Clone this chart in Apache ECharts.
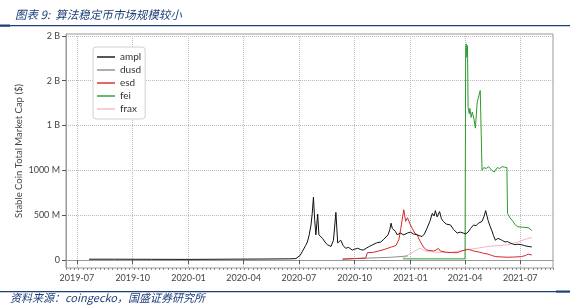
<!DOCTYPE html>
<html><head><meta charset="utf-8">
<script src="https://cdn.jsdelivr.net/npm/echarts@6/dist/echarts.min.js"></script>
<style>html,body{margin:0;padding:0;background:#fff}#c{width:570px;height:308px}</style>
</head><body><div id="c"></div>
<script>
// ---- data (values in millions of USD) ----
const seriesNames = ['ampl', 'dusd', 'esd', 'fei', 'frax'];
const yTickValues = [0, 500, 1000, 1500, 2000, 2500];
const yTickLabels = ['0', '500 M', '1000 M', '1 B', '2 B', '2 B'];
const xTickLabels = ['2019-07', '2019-10', '2020-01', '2020-04', '2020-07', '2020-10', '2021-01', '2021-04', '2021-07'];

const amplDates = ['2019-07-21','2019-09-01','2019-11-01','2020-01-01','2020-03-01','2020-05-01','2020-06-15','2020-06-26','2020-07-03','2020-07-08','2020-07-12','2020-07-15','2020-07-18','2020-07-21','2020-07-23','2020-07-25','2020-07-27','2020-07-29','2020-08-01','2020-08-03','2020-08-06','2020-08-09','2020-08-13','2020-08-17','2020-08-20','2020-08-23','2020-08-27','2020-08-31','2020-09-03','2020-09-08','2020-09-12','2020-09-16','2020-09-21','2020-09-27','2020-10-01','2020-10-06','2020-10-11','2020-10-15','2020-10-20','2020-10-25','2020-10-31','2020-11-06','2020-11-13','2020-11-18','2020-11-25','2020-11-28','2020-11-30','2020-12-02','2020-12-04','2020-12-07','2020-12-10','2020-12-15','2020-12-21','2020-12-27','2021-01-01','2021-01-06','2021-01-12','2021-01-20','2021-01-24','2021-01-28','2021-02-02','2021-02-06','2021-02-09','2021-02-11','2021-02-14','2021-02-18','2021-02-21','2021-02-24','2021-03-01','2021-03-08','2021-03-13','2021-03-19','2021-03-24','2021-03-29','2021-04-02','2021-04-06','2021-04-10','2021-04-15','2021-04-19','2021-04-23','2021-04-29','2021-05-02','2021-05-05','2021-05-09','2021-05-12','2021-05-15','2021-05-18','2021-05-21','2021-05-25','2021-05-29','2021-06-02','2021-06-06','2021-06-10','2021-06-14','2021-06-18','2021-06-22','2021-06-27','2021-07-03','2021-07-08','2021-07-14','2021-07-20'];
const amplValues = [8,8,7,6,8,10,12,15,50,110,160,200,280,390,520,700,450,280,510,280,290,240,200,170,180,150,220,530,190,220,160,130,140,110,120,130,115,110,130,150,170,190,200,230,280,340,410,350,370,320,280,300,280,300,310,290,280,260,290,350,430,520,490,550,480,540,460,430,400,390,340,300,310,300,290,310,350,390,380,410,430,480,550,440,380,330,270,220,240,230,215,200,205,190,180,170,175,170,160,150,145];

const dusdDates = ['2020-09-11','2020-10-01','2020-10-20','2020-11-10','2020-12-01','2020-12-20','2020-12-28'];
const dusdValues = [8,15,20,25,30,40,45];

const esdDates = ['2020-09-11','2020-10-01','2020-10-19','2020-10-22','2020-11-01','2020-11-10','2020-11-13','2020-11-20','2020-12-01','2020-12-08','2020-12-13','2020-12-16','2020-12-19','2020-12-21','2020-12-24','2020-12-27','2020-12-29','2021-01-01','2021-01-04','2021-01-08','2021-01-12','2021-01-16','2021-01-20','2021-01-24','2021-01-28','2021-02-02','2021-02-08','2021-02-12','2021-02-16','2021-02-19','2021-02-22','2021-03-01','2021-03-10','2021-03-19','2021-03-26','2021-04-01','2021-04-06','2021-04-15','2021-04-23','2021-05-01','2021-05-09','2021-05-15','2021-05-21','2021-06-01','2021-06-11','2021-06-20','2021-07-03','2021-07-10','2021-07-14','2021-07-17','2021-07-20'];
const esdValues = [10,15,20,80,85,100,110,120,145,160,230,350,480,560,430,470,450,390,350,300,280,220,170,130,110,105,100,110,130,100,90,85,82,80,100,110,120,100,90,75,65,50,37,33,30,32,37,50,65,50,55];

const feiDates = ['2020-12-20','2021-02-01','2021-04-01','2021-04-02','2021-04-03','2021-04-04','2021-04-05','2021-04-06','2021-04-08','2021-04-09','2021-04-11','2021-04-13','2021-04-16','2021-04-18','2021-04-21','2021-04-23','2021-04-26','2021-04-28','2021-04-29','2021-05-02','2021-05-06','2021-05-10','2021-05-15','2021-05-19','2021-05-24','2021-05-28','2021-06-01','2021-06-05','2021-06-09','2021-06-10','2021-06-14','2021-06-19','2021-06-23','2021-06-27','2021-07-05','2021-07-14','2021-07-20'];
const feiValues = [12,12,12,2350,2410,2260,2390,1700,1630,1690,1590,1650,1560,1470,1760,1810,1890,1880,1000,1030,1020,1040,1000,980,1030,1020,1040,1035,1030,520,470,430,390,370,365,360,330];

const fraxDates = ['2020-12-19','2020-12-25','2021-01-01','2021-01-06','2021-01-12','2021-01-17','2021-01-22','2021-01-26','2021-02-05','2021-02-14','2021-03-01','2021-03-08','2021-03-24','2021-04-10','2021-04-25','2021-05-09','2021-05-25','2021-06-11','2021-06-27','2021-07-09','2021-07-20'];
const fraxValues = [20,45,70,90,115,130,110,100,90,85,85,85,100,120,135,150,160,170,200,230,250];

const colors = ['#111111', '#8c8c8c', '#d62728', '#2e9a2e', '#f2b6c6'];
const seriesDates = [amplDates, dusdDates, esdDates, feiDates, fraxDates];
const seriesValues = [amplValues, dusdValues, esdValues, feiValues, fraxValues];

// ---- chart ----
const M = 1e6, DAY = 864e5, WEEK = 7 * DAY;
function ts(s) { const p = s.split('-').map(Number); return new Date(p[0], p[1] - 1, p[2] || 1).getTime(); }
const xTickValues = xTickLabels.map(ts);
const xMin = Math.floor(ts('2019-06-16') / WEEK) * WEEK;
const xMax = ts('2021-08-24');
const font = 'Lato, "Open Sans", sans-serif';
const cjk = '"Noto Sans CJK SC", sans-serif';

const chart = echarts.init(document.getElementById('c'), null, {renderer: 'canvas'});
chart.setOption({
  animation: false,
  color: colors,
  title: {
    text: '图表 9:  算法稳定币市场规模较小',
    left: 10, top: 4,
    textStyle: {fontFamily: cjk, fontStyle: 'italic', fontWeight: 'normal', fontSize: 11.5, color: '#1d3f7a'}
  },
  graphic: [
    {type: 'rect', shape: {x: 0, y: 25, width: 570, height: 1.2}, style: {fill: '#1d3f7a'}, silent: true},
    {type: 'rect', shape: {x: 0, y: 24.5, width: 10, height: 2.2}, style: {fill: '#1d3f7a'}, silent: true},
    {type: 'rect', shape: {x: 0, y: 291, width: 556, height: 1.2}, style: {fill: '#1d3f7a'}, silent: true},
    {type: 'rect', shape: {x: 556, y: 290.5, width: 14, height: 2.2}, style: {fill: '#1d3f7a'}, silent: true},
    {type: 'text', left: 10, top: 292, style: {text: '资料来源：coingecko，国盛证券研究所', font: 'italic 11px ' + cjk, fill: '#1d3f7a'}, silent: true}
  ],
  grid: {left: 66, right: 17, top: 34, bottom: 40, show: true, borderColor: '#999', borderWidth: 1, containLabel: false},
  legend: {
    orient: 'vertical', left: 93, top: 47,
    data: seriesNames,
    icon: 'path://M0,0 L18,0 L18,1.4 L0,1.4 Z',
    itemWidth: 18, itemHeight: 10, itemGap: 3,
    padding: [5, 4, 5, 4],
    borderColor: '#d0d0d0', borderWidth: 1, borderRadius: 3,
    backgroundColor: '#fff',
    textStyle: {fontFamily: font, fontSize: 10, color: '#333'}
  },
  xAxis: [{
    type: 'value', min: xMin, max: xMax,
    position: 'bottom',
    axisLine: {lineStyle: {color: '#999'}},
    axisTick: {show: true, length: 4, lineStyle: {color: '#555'}, customValues: xTickValues},
    axisLabel: {
      fontFamily: font, fontSize: 9, color: '#444', margin: 6,
      customValues: xTickValues,
      formatter: function (v) { const i = xTickValues.indexOf(v); return i >= 0 ? xTickLabels[i] : ''; }
    },
    splitLine: {show: true, lineStyle: {color: '#bbb', type: 'dotted'}}
  }, {
    type: 'value', min: xMin, max: xMax, interval: WEEK,
    position: 'bottom',
    axisLine: {show: false},
    axisTick: {show: true, length: 2, lineStyle: {color: '#888'}},
    axisLabel: {show: false},
    splitLine: {show: false}
  }],
  yAxis: {
    type: 'value', min: -90 * M, max: 2520 * M,
    name: 'Stable Coin Total Market Cap ($)',
    nameLocation: 'middle', nameGap: 42, nameMoveOverlap: false,
    nameTextStyle: {fontFamily: font, fontSize: 9.5, color: '#444'},
    axisLine: {show: true, lineStyle: {color: '#999'}},
    axisTick: {show: true, length: 4, lineStyle: {color: '#555'}, customValues: yTickValues.map(v => v * M)},
    axisLabel: {
      fontFamily: font, fontSize: 9, color: '#444', margin: 6,
      customValues: yTickValues.map(v => v * M),
      formatter: function (v) { const i = yTickValues.indexOf(Math.round(v / M)); return i >= 0 ? yTickLabels[i] : ''; }
    },
    splitLine: {show: true, lineStyle: {color: '#bbb', type: 'dotted'}}
  },
  series: seriesNames.map((name, k) => ({
    name: name, type: 'line', xAxisIndex: 0,
    symbol: 'none', showSymbol: false,
    lineStyle: {width: 1, color: colors[k]},
    itemStyle: {color: colors[k]},
    z: [5, 3, 4, 3, 2][k],
    data: seriesDates[k].map((d, i) => [ts(d), seriesValues[k][i] * M])
  }))
});
</script></body></html>
